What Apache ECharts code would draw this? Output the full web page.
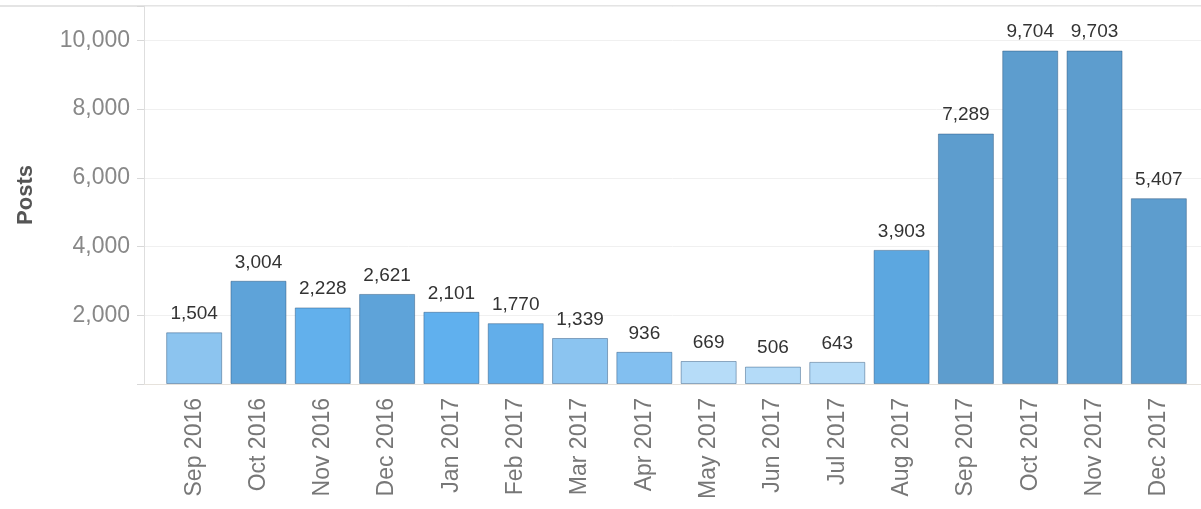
<!DOCTYPE html>
<html>
<head>
<meta charset="utf-8">
<script src="https://cdn.jsdelivr.net/npm/echarts@6/dist/echarts.min.js"></script>
<style>
  html, body { margin: 0; padding: 0; background: #fff; }
  #chart { width: 1201px; height: 509px; }
</style>
</head>
<body>
<div id="chart"></div>
<script>
// data
const months = ['Sep 2016', 'Oct 2016', 'Nov 2016', 'Dec 2016', 'Jan 2017', 'Feb 2017',
  'Mar 2017', 'Apr 2017', 'May 2017', 'Jun 2017', 'Jul 2017', 'Aug 2017',
  'Sep 2017', 'Oct 2017', 'Nov 2017', 'Dec 2017'];
const posts = [1504, 3004, 2228, 2621, 2101, 1770, 1339, 936, 669, 506, 643, 3903,
  7289, 9704, 9703, 5407];
const yTicks = [2000, 4000, 6000, 8000, 10000];

// per-bar fill (styling only)
const barColors = ['#8cc4ef', '#5ea3d9', '#62b0ec', '#5ea3d9', '#60b0ee', '#62aeea',
  '#8bc4f0', '#82bff0', '#b6dcf8', '#b4dbf8', '#b6dcf8', '#5ca7e0',
  '#5d9dce', '#5d9dce', '#5d9dce', '#5d9dce'];

(function() {
    const chart = echarts.init(document.getElementById('chart'));
    const fmt = (v) => Number(v).toLocaleString('en-US');
    const font = 'Arial, "Liberation Sans", sans-serif';

    const option = {
        animation: false,
        graphic: [{
            type: 'line',
            shape: { x1: 0, y1: 6, x2: 1201, y2: 6 },
            style: { stroke: '#e4e4e4', lineWidth: 2 },
            silent: true
        }],
        grid: [
            // axis frame
            { left: 144, right: 0, top: 6, bottom: 125 },
            // bars
            { left: 162, right: 10, top: 6, bottom: 125 }
        ],
        xAxis: [{
            gridIndex: 0,
            type: 'value',
            min: 0, max: 1,
            axisLine: { show: true, lineStyle: { color: '#e6e2dc', width: 1 } },
            axisTick: { show: false },
            axisLabel: { show: false },
            splitLine: { show: false }
        }, {
            gridIndex: 1,
            type: 'category',
            data: months,
            axisLine: { show: false },
            axisTick: { show: false },
            axisLabel: {
                rotate: 90,
                margin: 14,
                color: '#777',
                fontSize: 23,
                fontFamily: font
            }
        }],
        yAxis: [{
            gridIndex: 0,
            type: 'value',
            min: 0,
            max: 11000,
            interval: 2000,
            name: 'Posts',
            nameLocation: 'middle',
            nameGap: 107,
            nameTextStyle: { color: '#555', fontSize: 22, fontWeight: 'bold', fontFamily: font },
            axisLine: { show: true, lineStyle: { color: '#dedede' } },
            axisTick: { show: true, length: 7, lineStyle: { color: '#d8d8d8' } },
            axisLabel: {
                margin: 14,
                color: '#888',
                fontSize: 23,
                fontFamily: font,
                formatter: (v) => yTicks.includes(v) ? fmt(v) : ''
            },
            splitLine: { show: true, lineStyle: { color: '#f0f0f0' } }
        }, {
            gridIndex: 1,
            type: 'value',
            min: 0,
            max: 11000,
            show: false
        }],
        series: [{
            type: 'bar',
            xAxisIndex: 1,
            yAxisIndex: 1,
            barWidth: 56,
            data: posts.map((v, i) => ({
                value: v,
                itemStyle: { color: barColors[i] }
            })),
            itemStyle: {
                borderColor: 'rgba(40, 80, 120, 0.45)',
                borderWidth: 1
            },
            label: {
                show: true,
                position: 'top',
                distance: 9,
                color: '#333',
                fontSize: 19,
                fontFamily: font,
                formatter: (p) => fmt(p.value)
            }
        }]
    };

    chart.setOption(option);
})();
</script>
</body>
</html>
